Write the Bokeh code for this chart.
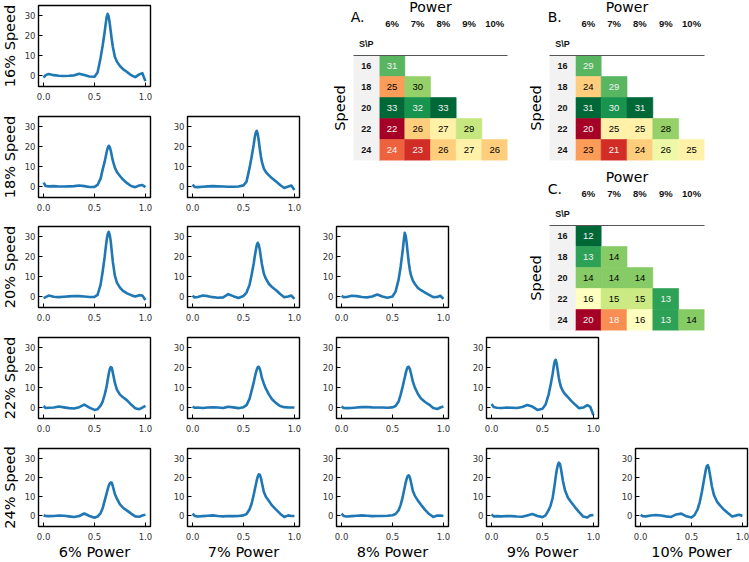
from bokeh.plotting import figure
from bokeh.models import (Column, Range1d, FixedTicker, LinearAxis, ColumnDataSource,
                          NumeralTickFormatter)
from bokeh.embed import file_html
from bokeh.resources import INLINE
from bokeh.core.properties import value

# ---------------- data ----------------
speeds = ["16", "18", "20", "22", "24"]
powers = ["6", "7", "8", "9", "10"]
x_ticks = [0.0, 0.5, 1.0]
y_ticks = [0, 10, 20, 30]

x_pos = [0.0, 0.02, 0.05, 0.1, 0.15, 0.2, 0.25, 0.3, 0.35, 0.4,
         0.45, 0.5, 0.53, 0.56, 0.58, 0.6,
         0.61, 0.62, 0.63, 0.64, 0.65, 0.66, 0.67, 0.68,
         0.7, 0.72, 0.75, 0.78, 0.82, 0.86, 0.9, 0.94, 0.97, 1.0]

s16_p6 = [-1.0, 0.2, 0.8, 0.2, -0.1, -0.2, -0.1, 0.1, 0.9, 0.3,
          -0.5, -0.6, 1.5, 9.0, 15.0, 22.0,
          26.0, 29.5, 31.0, 29.5, 26.0, 22.0, 18.0, 14.5,
          9.5, 7.0, 4.8, 3.2, 1.8, 0.2, -0.8, 0.6, 1.2, -2.8]
s18_p6 = [2.0, 0.3, 0.1, 0.2, 0.0, 0.0, 0.1, 0.2, 0.5, 0.2,
          -0.2, -0.2, 0.8, 4.0, 8.5, 12.5,
          15.0, 17.5, 19.5, 20.5, 19.8, 18.0, 15.5, 13.0,
          9.5, 7.3, 5.3, 3.5, 1.7, 0.3, -0.3, 0.5, 0.8, -0.3]
s18_p7 = [1.0, -0.2, -0.3, -0.1, 0.1, 0.2, 0.1, 0.0, -0.1, -0.1,
          0.0, 0.6, 2.5, 9.5, 15.0, 21.0,
          24.5, 27.0, 28.0, 26.5, 23.0, 19.0, 15.5, 12.5,
          9.0, 7.3, 5.6, 4.2, 2.5, 0.8, -0.7, 0.0, 0.5, -1.7]
s20_p6 = [-0.8, -0.3, 0.5, -0.1, -0.3, -0.1, 0.1, 0.3, 0.2, 0.0,
          -0.2, -0.2, 0.8, 6.0, 12.5, 20.0,
          24.5, 28.5, 31.5, 32.5, 31.0, 27.5, 22.5, 17.5,
          10.5, 7.0, 4.5, 2.8, 1.6, 0.7, 0.0, 0.7, 0.5, -1.7]
s20_p7 = [0.5, -0.5, -0.2, 0.5, 0.2, -0.3, -0.6, -0.4, 1.2, 0.2,
          -0.7, 0.3, 2.0, 6.0, 11.0, 16.5,
          20.0, 23.0, 25.8, 27.0, 26.0, 23.5, 20.0, 16.5,
          11.5, 9.0, 6.3, 4.8, 3.2, 1.3, -0.3, 0.0, 0.5, -1.2]
s20_p8 = [0.3, -0.3, -0.2, 0.4, 0.2, -0.2, -0.4, 0.0, 1.0, 0.0,
          -0.6, 0.0, 2.5, 8.5, 15.0, 23.0,
          28.0, 32.0, 30.5, 26.5, 21.5, 17.0, 13.5, 11.0,
          8.0, 6.3, 4.3, 3.2, 2.0, 0.8, -0.3, -0.2, 0.4, -1.2]
s22_p6 = [0.8, -0.2, -0.1, 0.0, 0.5, 0.1, -0.3, -0.5, 0.2, 1.5,
          0.0, -1.2, -0.8, 1.0, 3.0, 6.5,
          8.5, 11.0, 14.0, 17.0, 19.3, 20.3, 20.0, 17.5,
          12.5, 9.0, 6.5, 5.2, 3.6, 1.5, -0.3, -0.8, 0.0, 0.8]
s22_p7 = [0.5, -0.1, 0.0, -0.2, 0.0, 0.1, 0.0, -0.2, 0.4, 0.1,
          -0.3, 0.2, 1.2, 4.5, 8.5, 12.5,
          15.0, 17.2, 19.0, 20.3, 20.5, 19.5, 17.5, 15.0,
          12.0, 9.5, 6.5, 4.2, 2.2, 0.8, 0.2, 0.0, 0.0, 0.0]
s22_p8 = [0.6, -0.2, -0.3, -0.2, 0.0, 0.2, 0.3, 0.1, 0.0, 0.0,
          -0.1, 0.1, 0.8, 3.0, 6.5, 10.5,
          12.8, 15.0, 17.3, 19.2, 20.3, 20.5, 19.5, 17.5,
          13.0, 10.0, 6.8, 4.5, 2.8, 1.5, -0.2, -0.7, 0.0, 0.5]
s22_p9 = [1.8, 0.3, -0.1, -0.2, 0.0, -0.1, -0.2, 0.3, 1.3, 0.5,
          -1.2, -0.6, 1.5, 6.5, 11.5, 17.0,
          20.5, 23.3, 24.0, 22.0, 18.5, 15.0, 12.5, 10.5,
          8.3, 6.8, 5.2, 3.5, 1.5, -0.3, 0.0, 1.2, 0.3, -3.8]
s24_p6 = [0.4, 0.0, -0.1, 0.0, 0.2, 0.1, -0.2, -0.5, 0.0, 1.3,
          0.0, -0.9, -0.3, 1.5, 4.0, 8.0,
          10.0, 12.0, 14.0, 15.8, 17.0, 17.5, 17.2, 15.5,
          11.5, 9.0, 6.0, 4.3, 2.8, 1.2, -0.2, -0.4, 0.2, 0.7]
s24_p7 = [1.2, 0.0, -0.3, -0.1, 0.1, 0.3, 0.0, -0.2, 0.0, -0.1,
          0.0, 0.3, 1.0, 3.5, 6.5, 11.0,
          13.5, 16.0, 18.5, 20.5, 21.7, 21.5, 20.0, 17.5,
          12.5, 10.0, 7.8, 5.5, 3.3, 1.2, -0.5, 0.3, 0.0, 0.0]
s24_p8 = [1.2, 0.0, -0.3, -0.1, 0.1, 0.3, 0.1, -0.1, 0.0, 0.0,
          0.1, 0.4, 1.0, 3.0, 5.8, 9.8,
          12.5, 15.0, 17.5, 19.5, 20.8, 21.2, 20.3, 18.0,
          13.0, 10.5, 8.0, 5.8, 3.2, 1.0, -0.5, 0.2, 0.2, 0.0]
s24_p9 = [0.8, -0.2, -0.1, -0.2, 0.0, -0.1, -0.3, -0.4, 0.3, 1.0,
          0.0, -0.6, 0.3, 3.0, 5.5, 9.5,
          13.0, 16.5, 20.5, 24.0, 26.5, 27.8, 27.3, 25.0,
          18.5, 13.5, 9.5, 7.3, 4.5, 2.0, -0.3, -0.8, 0.3, 0.5]
s24_p10 = [0.6, -0.1, -0.2, 0.2, 0.5, 0.2, -0.2, -0.5, 0.8, 1.2,
           -0.2, -0.8, 0.5, 3.5, 7.0, 12.0,
           15.0, 18.0, 21.0, 24.0, 26.0, 26.5, 25.0, 22.0,
           15.5, 11.0, 7.5, 5.5, 3.2, 1.4, -0.3, 0.3, 0.6, 0.0]

curves = {
    (0, 0): s16_p6,
    (1, 0): s18_p6, (1, 1): s18_p7,
    (2, 0): s20_p6, (2, 1): s20_p7, (2, 2): s20_p8,
    (3, 0): s22_p6, (3, 1): s22_p7, (3, 2): s22_p8, (3, 3): s22_p9,
    (4, 0): s24_p6, (4, 1): s24_p7, (4, 2): s24_p8, (4, 3): s24_p9, (4, 4): s24_p10,
}

table_a = [[31], [25, 30], [33, 32, 33], [22, 26, 27, 29], [24, 23, 26, 27, 26]]
table_b = [[29], [24, 29], [31, 30, 31], [20, 25, 25, 28], [23, 21, 24, 26, 25]]
table_c = [[12], [13, 14], [14, 14, 14], [16, 15, 15, 13], [20, 18, 16, 13, 14]]

# ---------------- helpers ----------------
BL, BR = 40, 2          # common left/right borders (keeps column alignment neutral)

RDYLGN = ['#a50026', '#d73027', '#f46d43', '#fdae61', '#fee08b', '#ffffbf',
          '#d9ef8b', '#a6d96a', '#66bd63', '#1a9850', '#006837']


def h2rgb(h):
    return tuple(int(h[k:k + 2], 16) for k in (1, 3, 5))


def cmap(t):
    t = min(max(t, 0.0), 1.0) * 10
    i = min(int(t), 9)
    f = t - i
    a, b = h2rgb(RDYLGN[i]), h2rgb(RDYLGN[i + 1])
    return tuple(a[k] + (b[k] - a[k]) * f for k in range(3))


def lum(rgb):
    out = []
    for c in rgb:
        c = c / 255.0
        out.append(c / 12.92 if c <= 0.03928 else ((c + 0.055) / 1.055) ** 2.4)
    return 0.2126 * out[0] + 0.7152 * out[1] + 0.0722 * out[2]


def rgb2hex(rgb):
    return "#%02x%02x%02x" % tuple(int(round(c)) for c in rgb)


placed = []   # (fig, x0, y0, w, h)


def base_fig(fl, ft, fw, fh, bt, bb):
    w = BL + fw + BR
    h = bt + fh + bb
    p = figure(width=w, height=h, output_backend="svg", toolbar_location=None, title=None,
               min_border_left=BL, min_border_right=BR, min_border_top=bt, min_border_bottom=bb,
               x_axis_location=None, y_axis_location=None)
    p.background_fill_alpha = 0
    p.border_fill_alpha = 0
    p.outline_line_color = None
    p.xgrid.visible = False
    p.ygrid.visible = False
    placed.append((p, fl - BL, ft - bt, w, h))
    return p


def style_axis(ax):
    ax.axis_line_color = None
    ax.major_tick_in = 4
    ax.major_tick_out = 0
    ax.minor_tick_in = 0
    ax.minor_tick_out = 0
    ax.major_tick_line_color = "black"
    ax.major_tick_line_width = 1
    ax.major_label_text_font = "DejaVu Sans"
    ax.major_label_text_font_size = "8.5px"
    ax.major_label_text_color = "#333333"
    ax.major_label_standoff = 3
    ax.axis_label_text_font = "DejaVu Sans"
    ax.axis_label_text_font_size = "14.5px"
    ax.axis_label_text_font_style = "normal"
    ax.axis_label_text_color = "black"
    ax.axis_label_standoff = 4


def bare_axis(ax):
    ax.major_tick_in = 0
    ax.major_tick_out = 0
    ax.minor_tick_in = 0
    ax.minor_tick_out = 0
    ax.axis_label_text_font = "DejaVu Sans"
    ax.axis_label_text_font_size = "14.5px"
    ax.axis_label_text_font_style = "normal"
    ax.axis_label_text_color = "black"


def small_plot(i, j):
    fl = int(round(38 + 149.2 * j))
    ft = int(round(5 + 110.75 * i))
    p = base_fig(fl, ft, 112, 81, 4, 33 if i == 4 else 22)
    p.x_range = Range1d(-0.05, 1.05)
    p.y_range = Range1d(-5.5, 35.2)
    p.background_fill_color = "white"
    p.background_fill_alpha = 1
    p.outline_line_color = "black"
    p.outline_line_width = 1.4
    xa = LinearAxis(ticker=FixedTicker(ticks=x_ticks), formatter=NumeralTickFormatter(format="0.0"))
    ya = LinearAxis(ticker=FixedTicker(ticks=y_ticks))
    style_axis(xa)
    style_axis(ya)
    xa.major_label_standoff = 6
    xa.axis_label_standoff = 1
    if j == 0:
        ya.axis_label = f"{speeds[i]}% Speed"
    if i == 4:
        xa.axis_label = f"{powers[j]}% Power"
    p.add_layout(xa, "below")
    p.add_layout(ya, "left")
    p.line(x_pos, curves[(i, j)], line_color="#1f77b4", line_width=2.6, line_join="round")


def heatmap(fl, ft, fw, fh, table, reverse):
    p = base_fig(fl, ft, fw, fh, 70, 4)
    p.x_range = Range1d(-1.5, 4.5)
    p.y_range = Range1d(4.5, -0.5)
    vals = [v for row in table for v in row]
    vmin, vmax = min(vals), max(vals)
    xs, ys, cs, tcs, txt = [], [], [], [], []
    for r, row in enumerate(table):
        for c, v in enumerate(row):
            tt = (v - vmin) / (vmax - vmin)
            if reverse:
                tt = 1 - tt
            rgb = cmap(tt)
            xs.append(c)
            ys.append(r)
            cs.append(rgb2hex(rgb))
            tcs.append("#f1f1f1" if lum(rgb) < 0.408 else "#000000")
            txt.append(str(v))
    src = ColumnDataSource(dict(x=xs, y=ys, c=cs, tc=tcs, txt=txt))
    p.rect("x", "y", width=1, height=1, fill_color="c", line_color="c", line_width=0.6, source=src)
    p.text("x", "y", text="txt", text_color="tc", text_align="center", text_baseline="middle",
           text_font=value("Liberation Sans"), text_font_size="9.5px", source=src)
    isrc = ColumnDataSource(dict(x=[-1] * len(speeds), y=list(range(len(speeds))), txt=speeds))
    p.rect("x", "y", width=1, height=1, fill_color="#f2f2f2", line_color="#f2f2f2",
           line_width=0.6, source=isrc)
    p.text("x", "y", text="txt", text_color="#111111", text_align="center", text_baseline="middle",
           text_font=value("Liberation Sans"), text_font_style="bold", text_font_size="9px",
           source=isrc)

    ax1 = LinearAxis(ticker=FixedTicker(ticks=[-1]), major_label_overrides={-1: "S\\P"})
    bare_axis(ax1)
    ax1.axis_line_color = "#555555"
    ax1.axis_line_width = 1
    ax1.major_label_text_font = "Liberation Sans"
    ax1.major_label_text_font_style = "bold"
    ax1.major_label_text_font_size = "9px"
    ax1.major_label_text_color = "#111111"
    ax1.major_label_standoff = 7

    ax2 = LinearAxis(ticker=FixedTicker(ticks=list(range(len(powers)))),
                     major_label_overrides={k: f"{pw}%" for k, pw in enumerate(powers)},
                     axis_label="Power")
    bare_axis(ax2)
    ax2.axis_line_color = None
    ax2.major_label_text_font = "Liberation Sans"
    ax2.major_label_text_font_style = "bold"
    ax2.major_label_text_font_size = "9.5px"
    ax2.major_label_text_color = "#111111"
    ax2.major_label_standoff = 7
    ax2.axis_label_standoff = 0
    ax2.axis_label_text_font_size = "14px"

    ay = LinearAxis(ticker=FixedTicker(ticks=[]), axis_label="Speed")
    bare_axis(ay)
    ay.axis_line_color = None
    ay.axis_label_standoff = 6

    p.add_layout(ax1, "above")
    p.add_layout(ax2, "above")
    p.add_layout(ay, "left")


def letter(lx, cy, txt):
    p = base_fig(lx - 1, cy - 10, 24, 20, 0, 0)
    p.x_range = Range1d(0, 1)
    p.y_range = Range1d(0, 1)
    p.text(x=[0.05], y=[0.5], text=[txt], text_align="left", text_baseline="middle",
           text_font=value("DejaVu Sans"), text_font_size="14px", text_color="black")


heatmap(353, 55, 154, 105, table_a, False)
heatmap(549, 55, 155, 105, table_b, False)
heatmap(549, 225, 155, 105, table_c, True)
letter(350, 16, "A.")
letter(547, 16, "B.")
letter(547, 188, "C.")
for (i, j) in curves:
    small_plot(i, j)

children = []
prev_bottom = 0
for (p, x0, y0, w, h) in placed:
    p.margin = (y0 - prev_bottom, 0, 0, x0)
    prev_bottom = y0 + h
    children.append(p)

layout = Column(children=children, spacing=0)

open("out.html", "w").write(file_html(layout, INLINE))
